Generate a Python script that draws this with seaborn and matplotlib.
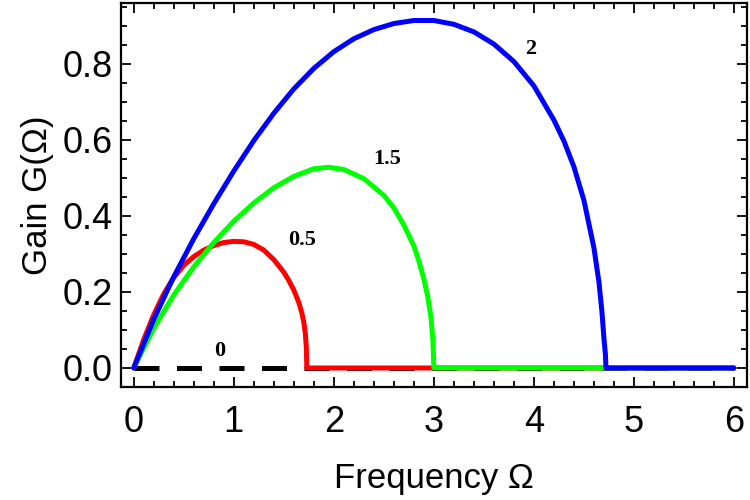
import numpy as np
import pandas as pd
import matplotlib
matplotlib.use('Agg')
import matplotlib.pyplot as plt
from matplotlib.ticker import MultipleLocator, FormatStrFormatter
import seaborn as sns

# values
omega_zero = [0.0, 6.0]
gain_zero = [0.0, 0.0]

omega_05 = [0.0, 0.1, 0.2, 0.3, 0.4, 0.5, 0.6, 0.7, 0.8, 0.9, 1.0, 1.1, 1.2, 1.3,
            1.4, 1.5, 1.55, 1.6, 1.65, 1.68, 1.7, 1.715, 1.725, 1.73, 6.0]
gain_05 = [0.0, 0.075, 0.14, 0.195, 0.238, 0.27, 0.293, 0.31, 0.322, 0.33, 0.333,
           0.332, 0.325, 0.31, 0.285, 0.252, 0.23, 0.205, 0.172, 0.145, 0.12,
           0.09, 0.055, 0.0, 0.0]

omega_15 = [0.0, 0.2, 0.4, 0.6, 0.8, 1.0, 1.2, 1.4, 1.6, 1.8, 1.95, 2.1, 2.3, 2.5,
            2.6, 2.7, 2.8, 2.85, 2.9, 2.94, 2.97, 2.99, 3.0, 6.0]
gain_15 = [0.0, 0.104, 0.192, 0.266, 0.33, 0.386, 0.434, 0.474, 0.504, 0.524, 0.528,
           0.522, 0.498, 0.454, 0.421, 0.376, 0.321, 0.281, 0.234, 0.186, 0.135,
           0.075, 0.0, 0.0]

omega_2 = [0.0, 0.2, 0.4, 0.6, 0.8, 1.0, 1.2, 1.4, 1.6, 1.8, 2.0, 2.2, 2.4, 2.6,
           2.8, 3.0, 3.2, 3.4, 3.6, 3.8, 4.0, 4.2, 4.3, 4.4, 4.5, 4.6, 4.65, 4.68,
           4.7, 4.715, 4.72, 6.0]
gain_2 = [0.0, 0.128, 0.24, 0.34, 0.432, 0.518, 0.598, 0.67, 0.734, 0.788, 0.832,
          0.866, 0.89, 0.906, 0.914, 0.914, 0.904, 0.884, 0.852, 0.806, 0.742, 0.652,
          0.597, 0.529, 0.441, 0.316, 0.226, 0.148, 0.078, 0.035, 0.0, 0.0]

labels = ['0', '0.5', '1.5', '2']
label_x = [0.86, 1.68, 2.53, 3.97]
label_y = [0.045, 0.337, 0.55, 0.84]

sns.set_theme(style='ticks')
plt.rcParams['font.family'] = ['Liberation Sans', 'DejaVu Sans']
plt.rcParams['text.color'] = 'black'
plt.rcParams['axes.labelcolor'] = 'black'
plt.rcParams['xtick.color'] = 'black'
plt.rcParams['ytick.color'] = 'black'

fig = plt.figure(figsize=(7.5, 5), dpi=100)
ax = fig.add_axes([0.161, 0.226, 0.835, 0.768])

lw = 3.6
sns.lineplot(x=omega_zero, y=gain_zero, ax=ax, color='black', lw=lw)
ax.lines[-1].set_dashes((5, 3.5))
sns.lineplot(x=omega_05, y=gain_05, ax=ax, color='#ff0000', lw=lw)
sns.lineplot(x=omega_15, y=gain_15, ax=ax, color='#00ff00', lw=lw)
sns.lineplot(x=omega_2, y=gain_2, ax=ax, color='#0000ff', lw=lw)
for ln in ax.lines:
    ln.set_solid_joinstyle('round')

for t, x, y in zip(labels, label_x, label_y):
    ax.text(x, y, t, family='Liberation Serif', fontweight='bold', fontsize=16,
            ha='center', va='center')

ax.set_xlim(-0.13, 6.13)
ax.set_ylim(-0.05, 0.96)
ax.xaxis.set_major_locator(MultipleLocator(1))
ax.xaxis.set_minor_locator(MultipleLocator(0.2))
ax.yaxis.set_major_locator(MultipleLocator(0.2))
ax.yaxis.set_minor_locator(MultipleLocator(0.05))
ax.yaxis.set_major_formatter(FormatStrFormatter('%.1f'))

ax.tick_params(which='both', direction='in', top=True, right=True, width=1.3)
ax.tick_params(which='major', length=7, labelsize=26, pad=6)
ax.tick_params(axis='x', which='major', pad=13)
ax.tick_params(which='minor', length=4)
for s in ax.spines.values():
    s.set_linewidth(1.6)
    s.set_color('black')

ax.set_xlabel('Frequency Ω', fontsize=25, labelpad=16)
ax.set_ylabel('Gain G(Ω)', fontsize=25, labelpad=6)

fig.savefig('out.png', dpi=100)
